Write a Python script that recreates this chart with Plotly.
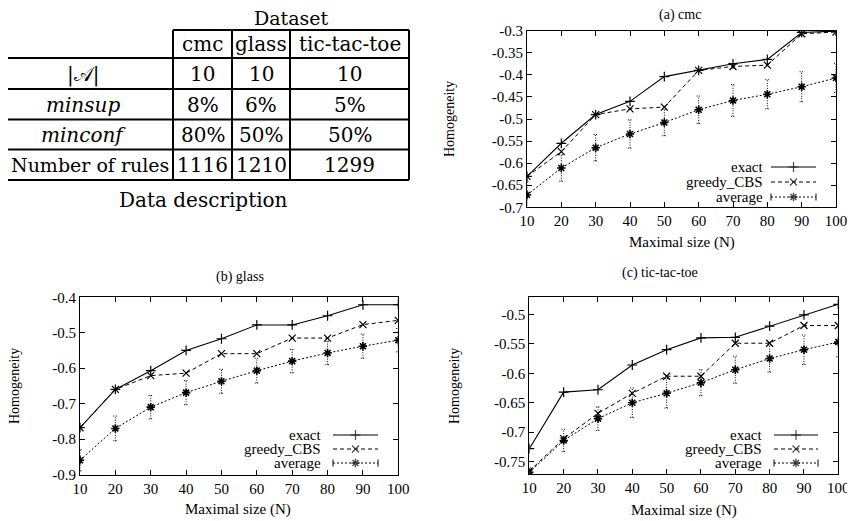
import plotly.graph_objects as go

# ---------------- data ----------------
N = [10, 20, 30, 40, 50, 60, 70, 80, 90, 100]

cmc_exact = [-0.630, -0.555, -0.490, -0.460, -0.404, -0.390, -0.375, -0.365, -0.304, -0.301]
cmc_greedy = [-0.630, -0.574, -0.490, -0.477, -0.473, -0.390, -0.381, -0.378, -0.307, -0.303]
cmc_avg = [-0.672, -0.611, -0.565, -0.534, -0.508, -0.479, -0.458, -0.444, -0.427, -0.407]
cmc_err = [0.030, 0.030, 0.030, 0.032, 0.030, 0.031, 0.036, 0.033, 0.034, 0.033]

glass_exact = [-0.768, -0.660, -0.607, -0.550, -0.517, -0.478, -0.478, -0.452, -0.421, -0.421]
glass_greedy = [-0.768, -0.660, -0.621, -0.614, -0.559, -0.559, -0.515, -0.515, -0.477, -0.465]
glass_avg = [-0.860, -0.770, -0.710, -0.669, -0.637, -0.607, -0.580, -0.557, -0.538, -0.521]
glass_err = [0.030, 0.035, 0.033, 0.034, 0.034, 0.035, 0.033, 0.033, 0.034, 0.033]

ttt_exact = [-0.728, -0.632, -0.628, -0.586, -0.560, -0.540, -0.539, -0.520, -0.501, -0.483]
ttt_greedy = [-0.766, -0.711, -0.668, -0.634, -0.605, -0.605, -0.549, -0.549, -0.519, -0.519]
ttt_avg = [-0.768, -0.714, -0.677, -0.650, -0.634, -0.616, -0.594, -0.575, -0.560, -0.547]
ttt_err = [0.008, 0.019, 0.020, 0.025, 0.025, 0.022, 0.023, 0.023, 0.025, 0.025]

series_names = ["exact", "greedy_CBS", "average"]
panel_titles = ["(a) cmc", "(b) glass", "(c) tic-tac-toe"]
x_title = "Maximal size (N)"
y_title = "Homogeneity"

x_ticks = [10, 20, 30, 40, 50, 60, 70, 80, 90, 100]
x_ticktext = ["10", "20", "30", "40", "50", "60", "70", "80", "90", "100"]
a_yticks = [-0.3, -0.35, -0.4, -0.45, -0.5, -0.55, -0.6, -0.65, -0.7]
a_yticktext = ["-0.3", "-0.35", "-0.4", "-0.45", "-0.5", "-0.55", "-0.6", "-0.65", "-0.7"]
b_yticks = [-0.4, -0.5, -0.6, -0.7, -0.8, -0.9]
b_yticktext = ["-0.4", "-0.5", "-0.6", "-0.7", "-0.8", "-0.9"]
c_yticks = [-0.5, -0.55, -0.6, -0.65, -0.7, -0.75]
c_yticktext = ["-0.5", "-0.55", "-0.6", "-0.65", "-0.7", "-0.75"]

# table
table_title = "Dataset"
table_caption = "Data description"
table_cols = ["cmc", "glass", "tic-tac-toe"]
table_rows = ["|𝒜|", "<i>minsup</i>", "<i>minconf</i>", "Number of rules"]
table_vals = [
    ["10", "10", "10"],
    ["8%", "6%", "5%"],
    ["80%", "50%", "50%"],
    ["1116", "1210", "1299"],
]

# ---------------- figure ----------------
WIN_W, WIN_H = 855, 521        # browser window
OX, OY = 8, 8                  # default page body margin
W, H = WIN_W - OX, WIN_H - OY  # figure size so it fills the window exactly
SERIF = "Liberation Serif, Times New Roman, Times, serif"
TABFONT = "DejaVu Serif, Bitstream Vera Serif, serif"

fig = go.Figure()

def px(x):
    return (x - OX) / W

def py(y):
    return 1 - (y - OY) / H

panels = [
    dict(k=1, ex=cmc_exact, gr=cmc_greedy, av=cmc_avg, er=cmc_err,
         xdom=[527, 836], ydom=[30.7, 207.3], yr=[-0.7, -0.3],
         yt=a_yticks, ytt=a_yticktext,
         title=(680, 15), xt=(682, 242), ytl=(450, 119),
         leg=dict(tx=765, x0=771, x1=816, ys=[167, 182, 197])),
    dict(k=2, ex=glass_exact, gr=glass_greedy, av=glass_avg, er=glass_err,
         xdom=[80, 398.3], ydom=[297.3, 474.5], yr=[-0.9, -0.4],
         yt=b_yticks, ytt=b_yticktext,
         title=(240, 277), xt=(238, 509), ytl=(14, 386),
         leg=dict(tx=323, x0=333, x1=378, ys=[435, 449, 463])),
    dict(k=3, ex=ttt_exact, gr=ttt_greedy, av=ttt_avg, er=ttt_err,
         xdom=[529.3, 838.3], ydom=[296.7, 474.3], yr=[-0.7714, -0.4701],
         yt=c_yticks, ytt=c_yticktext,
         title=(660, 273), xt=(684, 510), ytl=(454, 386),
         leg=dict(tx=764, x0=774, x1=818, ys=[435, 449, 463])),
]

BLACK = "black"
CAP = 0.6
annotations = []
shapes = []

for p in panels:
    k = p["k"]
    xa = "x" if k == 1 else f"x{k}"
    ya = "y" if k == 1 else f"y{k}"
    # error bars (dotted) built from average +/- error
    ex_x, ex_y = [], []
    for n, a, e in zip(N, p["av"], p["er"]):
        ex_x += [n, n, None, n - CAP, n + CAP, None, n - CAP, n + CAP, None]
        ex_y += [a - e, a + e, None, a + e, a + e, None, a - e, a - e, None]
    fig.add_trace(go.Scatter(x=ex_x, y=ex_y, xaxis=xa, yaxis=ya, mode="lines",
                             line=dict(color=BLACK, width=1, dash="1px,1.5px"),
                             showlegend=False, hoverinfo="skip"))
    fig.add_trace(go.Scatter(x=N, y=p["av"], xaxis=xa, yaxis=ya, mode="lines+markers",
                             name=series_names[2],
                             line=dict(color=BLACK, width=1, dash="2px,2px"),
                             marker=dict(symbol="asterisk", size=7, color=BLACK,
                                         line=dict(color=BLACK, width=1.6)),
                             showlegend=False))
    fig.add_trace(go.Scatter(x=N, y=p["gr"], xaxis=xa, yaxis=ya, mode="lines+markers",
                             name=series_names[1],
                             line=dict(color=BLACK, width=1, dash="4px,3px"),
                             marker=dict(symbol="x-thin", size=7, color=BLACK,
                                         line=dict(color=BLACK, width=1.2)),
                             showlegend=False))
    fig.add_trace(go.Scatter(x=N, y=p["ex"], xaxis=xa, yaxis=ya, mode="lines+markers",
                             name=series_names[0],
                             line=dict(color=BLACK, width=1.1),
                             marker=dict(symbol="cross-thin", size=7, color=BLACK,
                                         line=dict(color=BLACK, width=1.2)),
                             showlegend=False))

    axis_common = dict(showline=True, linecolor=BLACK, linewidth=1, mirror="ticks",
                       ticks="inside", ticklen=5, tickcolor=BLACK, tickwidth=1,
                       showgrid=False, zeroline=False, automargin=False,
                       tickfont=dict(family=SERIF, size=15, color=BLACK))
    fig.layout[f"xaxis{'' if k == 1 else k}"] = dict(
        domain=[px(p["xdom"][0]), px(p["xdom"][1])], range=[10, 100],
        anchor=ya, tickvals=x_ticks, ticktext=x_ticktext, **axis_common)
    fig.layout[f"yaxis{'' if k == 1 else k}"] = dict(
        domain=[py(p["ydom"][1]), py(p["ydom"][0])], range=p["yr"],
        anchor=xa, tickvals=p["yt"], ticktext=p["ytt"], **axis_common)

    # titles
    annotations.append(dict(text=panel_titles[k - 1], x=px(p["title"][0]), y=py(p["title"][1]),
                            xref="paper", yref="paper", showarrow=False,
                            font=dict(family=SERIF, size=14, color=BLACK),
                            xanchor="center", yanchor="middle"))
    annotations.append(dict(text=x_title, x=px(p["xt"][0]), y=py(p["xt"][1]),
                            xref="paper", yref="paper", showarrow=False,
                            font=dict(family=SERIF, size=15, color=BLACK),
                            xanchor="center", yanchor="middle"))
    annotations.append(dict(text=y_title, x=px(p["ytl"][0]), y=py(p["ytl"][1]),
                            xref="paper", yref="paper", showarrow=False, textangle=-90,
                            font=dict(family=SERIF, size=14, color=BLACK),
                            xanchor="center", yanchor="middle"))

    # gnuplot-style key (text, then line sample)
    lg = p["leg"]
    styles = [
        (dict(color=BLACK, width=1.1), ["cross-thin"] * 3, [0, 7, 0], 1.2),
        (dict(color=BLACK, width=1, dash="4px,3px"), ["x-thin"] * 3, [0, 7, 0], 1.2),
        (dict(color=BLACK, width=1, dash="2px,2px"), ["line-ns", "asterisk", "line-ns"], [5, 7, 5], 1.4),
    ]
    for name, yy, (ls, syms, sizes, mw) in zip(series_names, lg["ys"], styles):
        annotations.append(dict(text=name, x=px(lg["tx"]), y=py(yy), xref="paper", yref="paper",
                                showarrow=False, xanchor="right", yanchor="middle",
                                font=dict(family=SERIF, size=15, color=BLACK)))
        xm = (lg["x0"] + lg["x1"]) / 2
        fig.add_trace(go.Scatter(x=[lg["x0"], xm, lg["x1"]], y=[yy, yy, yy], xaxis="x4", yaxis="y4",
                                 mode="lines+markers", line=ls,
                                 marker=dict(symbol=syms, size=sizes, color=BLACK,
                                             line=dict(color=BLACK, width=mw)),
                                 showlegend=False, hoverinfo="skip"))

# hidden pixel-coordinate axis (window pixels) for the keys
fig.layout["xaxis4"] = dict(domain=[0, 1], range=[OX, WIN_W], visible=False, anchor="y4", automargin=False)
fig.layout["yaxis4"] = dict(domain=[0, 1], range=[WIN_H, OY], visible=False, anchor="x4", automargin=False)

# ---------------- table ----------------
LW = 2
hlines = [58, 89, 119.5, 149.5, 180]
vlines = [173, 232, 290, 409]
shapes.append(dict(type="line", xref="paper", yref="paper", x0=px(173), x1=px(409),
                   y0=py(30), y1=py(30), line=dict(color=BLACK, width=LW)))
for yy in hlines:
    shapes.append(dict(type="line", xref="paper", yref="paper", x0=px(0), x1=px(409),
                       y0=py(yy), y1=py(yy), line=dict(color=BLACK, width=LW)))
for xx in vlines:
    shapes.append(dict(type="line", xref="paper", yref="paper", x0=px(xx), x1=px(xx),
                       y0=py(30), y1=py(180), line=dict(color=BLACK, width=LW)))

col_centers = [202.5, 261, 349.5]
row_centers = [74, 104.5, 134.5, 165]
row_label_x = [83, 83, 83, 89.5]
row_label_size = [20, 20, 20, 19]
TF = dict(family=TABFONT, size=20, color=BLACK)
annotations.append(dict(text=table_title, x=px(291), y=py(18), xref="paper", yref="paper",
                        showarrow=False, font=dict(family=TABFONT, size=19, color=BLACK),
                        xanchor="center", yanchor="middle"))
for c, cx in zip(table_cols, col_centers):
    annotations.append(dict(text=c, x=px(cx), y=py(44), xref="paper", yref="paper",
                            showarrow=False, font=TF, xanchor="center", yanchor="middle"))
for r, ry, lx, ls_, vals in zip(table_rows, row_centers, row_label_x, row_label_size, table_vals):
    annotations.append(dict(text=r, x=px(lx), y=py(ry), xref="paper", yref="paper",
                            showarrow=False, font=dict(family=TABFONT, size=ls_, color=BLACK),
                            xanchor="center", yanchor="middle"))
    for v, cx in zip(vals, col_centers):
        annotations.append(dict(text=v, x=px(cx), y=py(ry), xref="paper", yref="paper",
                                showarrow=False, font=TF, xanchor="center", yanchor="middle"))
annotations.append(dict(text=table_caption, x=px(203), y=py(200), xref="paper", yref="paper",
                        showarrow=False, font=TF, xanchor="center", yanchor="middle"))

fig.update_layout(width=W, height=H,
                  margin=dict(l=0, r=0, t=0, b=0, pad=0, autoexpand=False),
                  paper_bgcolor="white", plot_bgcolor="rgba(0,0,0,0)",
                  annotations=annotations, shapes=shapes, showlegend=False)

fig.write_html("out.html")
